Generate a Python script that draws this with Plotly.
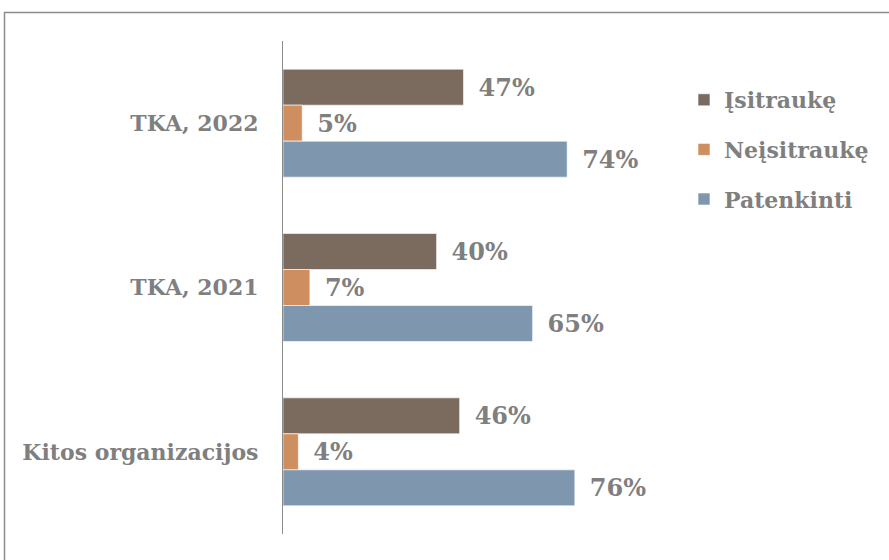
import plotly.graph_objects as go

categories = ["TKA, 2022", "TKA, 2021", "Kitos organizacijos"]
series_names = ["Įsitraukę", "Neįsitraukę", "Patenkinti"]
isitrauke = [0.47, 0.40, 0.46]
neisitrauke = [0.05, 0.07, 0.04]
patenkinti = [0.74, 0.65, 0.76]
colors = ["#7B6A5E", "#CF8E5F", "#7F97AE"]

FONT = "DejaVu Serif"
GRAY = "#7F7F7F"
FS = 22
FS_LBL = 24

fig = go.Figure()
for name, vals, col in zip(series_names, [isitrauke, neisitrauke, patenkinti], colors):
    fig.add_trace(go.Bar(
        y=categories, x=vals, name=name, orientation="h",
        marker=dict(color=col, line=dict(color="white", width=0.6)),
        texttemplate="\u2002%{x:.0%}", textposition="outside",
        textfont=dict(family=FONT, size=FS_LBL, color=GRAY, weight="bold"),
        cliponaxis=False, legendgroup=name,
    ))

W, H = 889, 560
L, T, B = 283, 41, 26
PW = 384
PH = H - T - B
R = W - L - PW

def px_x(p):
    return (p - L) / PW

def px_y(p):
    return 1 - (p - T) / PH

fig.update_layout(
    width=W, height=H,
    margin=dict(l=L, r=R, t=T, b=B),
    paper_bgcolor="white", plot_bgcolor="white",
    barmode="group", bargap=0.343, bargroupgap=0,
    font=dict(family=FONT, size=FS, color=GRAY, weight="bold"),
    xaxis=dict(range=[0, 1], visible=False, showgrid=False),
    yaxis=dict(autorange="reversed", showline=True, linecolor="#8C8C8C", linewidth=1.2,
               showgrid=False, ticks="", ticklabelstandoff=19,
               tickfont=dict(family=FONT, size=FS, color=GRAY, weight="bold")),
    legend=dict(x=px_x(684), y=px_y(79), xanchor="left", yanchor="top",
                traceorder="grouped", tracegroupgap=18,
                font=dict(family=FONT, size=FS, color=GRAY, weight="bold")),
    shapes=[dict(type="rect", xref="paper", yref="paper",
                 x0=px_x(4.5), x1=px_x(895), y0=px_y(12.5), y1=px_y(570),
                 line=dict(color="#8C8C8C", width=1.5), fillcolor="rgba(0,0,0,0)")],
    showlegend=True,
)

fig.write_html("out.html", config={"displayModeBar": False},
               post_script="document.body.style.margin='0';")
